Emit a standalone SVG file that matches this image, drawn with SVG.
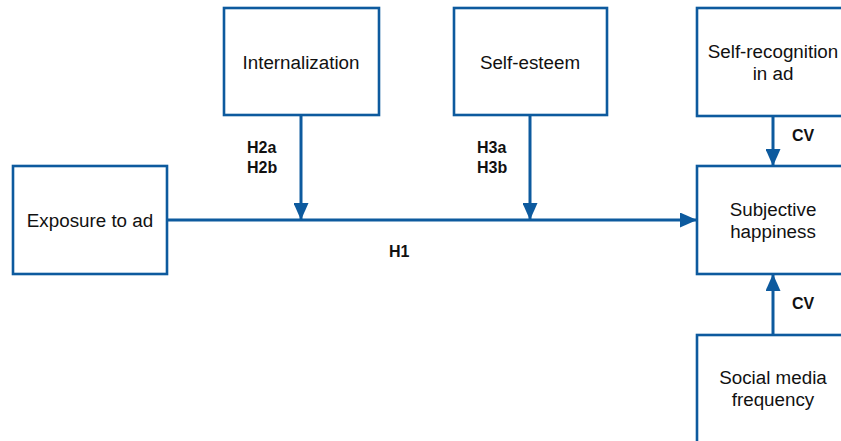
<svg xmlns="http://www.w3.org/2000/svg" width="841" height="441" viewBox="0 0 841 441">
<style>
.box{fill:#fff;stroke:#0d5a9e;stroke-width:2.6}
.t{font-family:"Liberation Sans",Arial,sans-serif;font-size:18.8px;fill:#111;text-anchor:middle}
.l{font-family:"Liberation Sans",Arial,sans-serif;font-size:16px;font-weight:bold;fill:#111}
.c{stroke:#0d5a9e;stroke-width:3;fill:none}
</style>
<defs>
<marker id="a" markerWidth="17" markerHeight="15" refX="17" refY="7.5" orient="auto" markerUnits="userSpaceOnUse">
<path d="M0,0 L17,7.5 L0,15 Z" fill="#0d5a9e"/>
</marker>
</defs>
<rect width="841" height="441" fill="#fff"/>
<g id="connectors">
<line class="c" x1="167" y1="220" x2="697" y2="220" marker-end="url(#a)"/>
<line class="c" x1="301" y1="115" x2="301" y2="220" marker-end="url(#a)"/>
<line class="c" x1="530" y1="115" x2="530" y2="220" marker-end="url(#a)"/>
<line class="c" x1="773" y1="116" x2="773" y2="166" marker-end="url(#a)"/>
<line class="c" x1="773" y1="335" x2="773" y2="274" marker-end="url(#a)"/>
<text class="l" x="247" y="153">H2a</text>
<text class="l" x="247" y="173">H2b</text>
<text class="l" x="477" y="153">H3a</text>
<text class="l" x="477" y="173">H3b</text>
<text class="l" x="389" y="257">H1</text>
<text class="l" x="792" y="141">CV</text>
<text class="l" x="792" y="309">CV</text>
</g>
<g id="exposure">
<rect class="box" x="13" y="166" width="154" height="108"/>
<text class="t" x="90" y="227">Exposure to ad</text>
</g>
<g id="internalization">
<rect class="box" x="224" y="8" width="155" height="107"/>
<text class="t" x="301" y="69">Internalization</text>
</g>
<g id="selfesteem">
<rect class="box" x="454" y="8" width="153" height="107"/>
<text class="t" x="530" y="69">Self-esteem</text>
</g>
<g id="selfrecognition">
<rect class="box" x="697" y="8" width="155" height="108"/>
<text class="t" x="773" y="58">Self-recognition</text>
<text class="t" x="773" y="80">in ad</text>
</g>
<g id="happiness">
<rect class="box" x="697" y="166" width="155" height="108"/>
<text class="t" x="773" y="216">Subjective</text>
<text class="t" x="773" y="238">happiness</text>
</g>
<g id="socialmedia">
<rect class="box" x="697" y="335" width="155" height="120"/>
<text class="t" x="773" y="384">Social media</text>
<text class="t" x="773" y="406">frequency</text>
</g>
</svg>
